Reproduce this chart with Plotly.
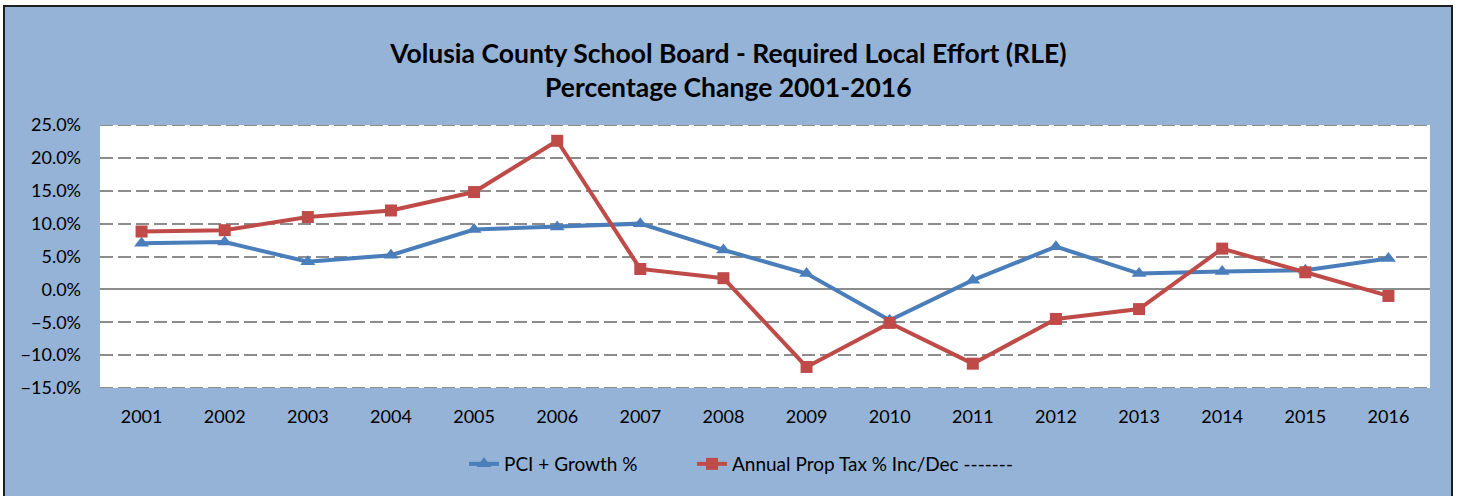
import plotly.graph_objects as go

# ---- data (percent change) ----
years = [str(y) for y in range(2001, 2017)]
pci_growth = [7.0, 7.2, 4.2, 5.2, 9.1, 9.5, 10.0, 6.0, 2.4, -4.7, 1.4, 6.5, 2.4, 2.7, 2.9, 4.7]
prop_tax = [8.8, 9.0, 11.0, 12.0, 14.8, 22.6, 3.1, 1.7, -11.8, -5.1, -11.3, -4.5, -3.0, 6.2, 2.6, -1.0]
series_names = ["PCI + Growth %", "Annual Prop Tax % Inc/Dec -------"]
title_lines = ["Volusia County School Board - Required Local Effort (RLE)", "Percentage Change 2001-2016"]
y_min, y_max, y_step = -15, 25, 5

W, H = 1461, 496
L, R, T, B = 100, 31, 125, 108
PW, PH = W - L - R, H - T - B


def px(x):
    return (x - L) / PW


def py(y):
    return (H - B - y) / PH


BLUE = "#4A7EBB"
RED = "#BE4B48"
BG = "#95B3D7"
GRID = "#8C8C8C"
FONT = "Lato"

fig = go.Figure()
fig.add_trace(go.Scatter(
    x=years, y=pci_growth, name=series_names[0], mode="lines+markers",
    line=dict(color=BLUE, width=4),
    marker=dict(symbol="triangle-up", size=13, color=BLUE),
    legend="legend",
))
fig.add_trace(go.Scatter(
    x=years, y=prop_tax, name=series_names[1], mode="lines+markers",
    line=dict(color=RED, width=4),
    marker=dict(symbol="square", size=12, color=RED),
    legend="legend2",
))

shapes = [
    # dashed gridlines on the plot edges (range ends)
    dict(type="line", xref="paper", yref="y", x0=0, x1=1, y0=y_max, y1=y_max,
         line=dict(color=GRID, width=2, dash="13px,5px"), layer="below"),
    dict(type="line", xref="paper", yref="y", x0=0, x1=1, y0=y_min, y1=y_min,
         line=dict(color=GRID, width=2, dash="13px,5px"), layer="below"),
    # white strips outside the chart frame
    dict(type="rect", xref="paper", yref="paper", x0=px(-20), x1=px(1480), y0=py(5), y1=py(-20),
         fillcolor="white", line=dict(width=0), layer="above"),
    dict(type="rect", xref="paper", yref="paper", x0=px(-20), x1=px(3), y0=py(520), y1=py(-20),
         fillcolor="white", line=dict(width=0), layer="above"),
    dict(type="rect", xref="paper", yref="paper", x0=px(1453), x1=px(1480), y0=py(520), y1=py(-20),
         fillcolor="white", line=dict(width=0), layer="above"),
    # dark frame
    dict(type="rect", xref="paper", yref="paper", x0=px(4), x1=px(1452), y0=py(520), y1=py(6),
         fillcolor="rgba(0,0,0,0)", line=dict(color="#1f1f1f", width=2), layer="above"),
]

legend_common = dict(
    orientation="h", xref="container", yref="container", xanchor="left",
    y=1 - 464 / H, yanchor="middle", bgcolor="rgba(0,0,0,0)",
    font=dict(family=FONT, size=19, color="black"),
)

fig.update_layout(
    width=W, height=H,
    margin=dict(l=L, r=R, t=T, b=B, autoexpand=False),
    paper_bgcolor=BG, plot_bgcolor="white",
    font=dict(family=FONT, size=18, color="black"),
    title=dict(
        text="<b>" + title_lines[0] + "</b><br><b>" + title_lines[1] + "</b>",
        x=0.4985, xref="container", xanchor="center",
        y=1 - 63 / H, yref="container", yanchor="middle",
        font=dict(family=FONT, size=26.5, color="black"),
    ),
    showlegend=True,
    legend=dict(x=(503 - 39) / W, **legend_common),
    legend2=dict(x=(731 - 39) / W, **legend_common),
    xaxis=dict(
        type="category", showgrid=False, zeroline=False, showline=False,
        ticks="", tickfont=dict(family=FONT, size=18, color="black"),
        ticklabelstandoff=16, range=[-0.5, 15.5],
    ),
    yaxis=dict(
        range=[y_min, y_max], dtick=y_step, tick0=0, ticksuffix="%", tickformat=".1f",
        showgrid=True, gridcolor=GRID, gridwidth=2, griddash="13px,5px",
        zeroline=True, zerolinecolor=GRID, zerolinewidth=2,
        showline=False, ticks="", ticklabelstandoff=18,
        tickfont=dict(family=FONT, size=18, color="black"),
    ),
    shapes=shapes,
)

fig.write_html("out.html")
